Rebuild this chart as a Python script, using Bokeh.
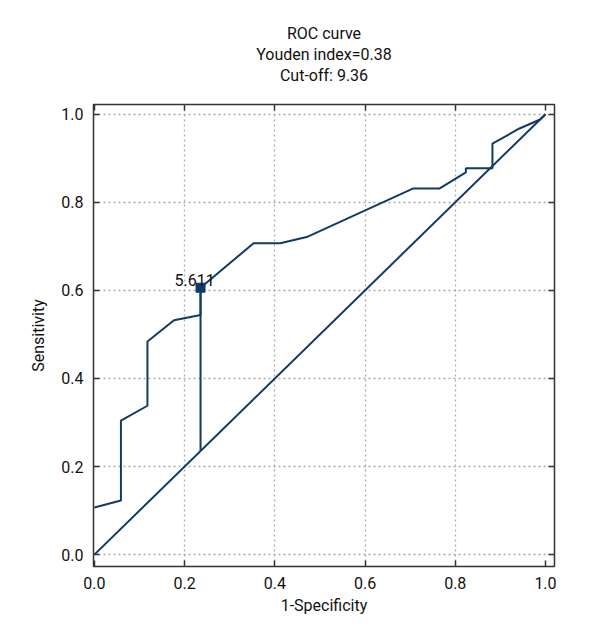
from bokeh.plotting import figure
from bokeh.models import LinearAxis, FixedTicker, Title, Range1d, CustomJSTickFormatter
from bokeh.embed import file_html
from bokeh.resources import INLINE
from bokeh.core.properties import value

# ROC curve data (1-Specificity, Sensitivity)
fpr = [0.0, 0.0588, 0.0588, 0.1176, 0.1176, 0.1765, 0.2353, 0.2353, 0.3529, 0.4118,
       0.4706, 0.7059, 0.7647, 0.8235, 0.8235, 0.8824, 0.8824, 0.9412, 0.9880, 1.0]
tpr = [0.107, 0.123, 0.304, 0.338, 0.484, 0.532, 0.544, 0.606, 0.707, 0.707,
       0.721, 0.831, 0.831, 0.868, 0.877, 0.877, 0.933, 0.967, 0.988, 1.0]

diag_x = [0.0, 1.0]
diag_y = [0.0, 1.0]

# Youden index point
cut_x = [0.2353]
cut_y = [0.606]
cut_label = ["5.611"]
youden_x = [0.2353, 0.2353]
youden_y = [0.2353, 0.606]

ticks = [0.0, 0.2, 0.4, 0.6, 0.8, 1.0]
grid_ticks_x = [0.2, 0.4, 0.6, 0.8]

title_lines = ["ROC curve", "Youden index=0.38", "Cut-off: 9.36"]
x_label = "1-Specificity"
y_label = "Sensitivity"

FONT = "Roboto"
NAVY = "#113a66"
FS = "16px"

p = figure(width=584, height=624, output_backend="svg", toolbar_location=None,
           x_range=Range1d(-0.002, 1.02), y_range=Range1d(-0.027, 1.022),
           min_border_left=93, min_border_right=30, min_border_top=104, min_border_bottom=58)

p.title.visible = False

# inward ticks on top and right (no labels)
for side in ("above", "right"):
    ax = LinearAxis(ticker=FixedTicker(ticks=ticks), major_tick_in=6, major_tick_out=0,
                    minor_tick_line_color=None, major_tick_line_color="#333333",
                    major_tick_line_width=1.5, axis_line_color=None,
                    major_label_text_font_size="0px", major_label_text_alpha=0,
                    major_label_standoff=0)
    p.add_layout(ax, side)

# blank spacer between the title block and the frame
p.add_layout(Title(text=" ", text_font=FONT, text_font_size="15px", standoff=0), "above")

for t in reversed(title_lines):
    ttl = Title(text=t, align="center", text_font=FONT, text_font_size=FS,
                text_font_style="normal", text_color="#111111", standoff=0)
    p.add_layout(ttl, "above")

p.outline_line_color = "#333333"
p.outline_line_width = 1.5
p.background_fill_color = "white"
p.border_fill_color = "white"

xax = p.below[0]
yax = p.left[0]
fmt = CustomJSTickFormatter(code="return tick.toFixed(1);")
for ax in (xax, yax):
    ax.ticker = FixedTicker(ticks=ticks)
    ax.formatter = fmt
    ax.major_tick_in = 6
    ax.major_tick_out = 0
    ax.minor_tick_line_color = None
    ax.major_tick_line_color = "#333333"
    ax.major_tick_line_width = 1.5
    ax.axis_line_color = None
    ax.major_label_text_font = FONT
    ax.major_label_text_font_size = FS
    ax.major_label_text_color = "#111111"
    ax.axis_label_text_font = FONT
    ax.axis_label_text_font_size = FS
    ax.axis_label_text_font_style = "normal"
    ax.axis_label_text_color = "#111111"
    ax.major_label_standoff = 10

xax.axis_label = x_label
yax.axis_label = y_label
xax.axis_label_standoff = 4
yax.axis_label_standoff = 10

p.xgrid.ticker = FixedTicker(ticks=grid_ticks_x)
p.ygrid.ticker = FixedTicker(ticks=ticks)
for g in (p.xgrid, p.ygrid):
    g.grid_line_color = "#aaaaaa"
    g.grid_line_dash = "2 3"
    g.grid_line_width = 1.3

p.line(diag_x, diag_y, line_color=NAVY, line_width=2)
p.line(fpr, tpr, line_color=NAVY, line_width=2)
p.line(youden_x, youden_y, line_color=NAVY, line_width=2)
p.scatter(cut_x, cut_y, marker="square", size=9, fill_color=NAVY, line_color=NAVY)
p.text(cut_x, cut_y, text=cut_label, text_font=value(FONT), text_font_size=FS,
       text_color="#111111", text_align="center", text_baseline="alphabetic",
       x_offset=-6, y_offset=-8)

open("out.html", "w").write(file_html(p, INLINE))
